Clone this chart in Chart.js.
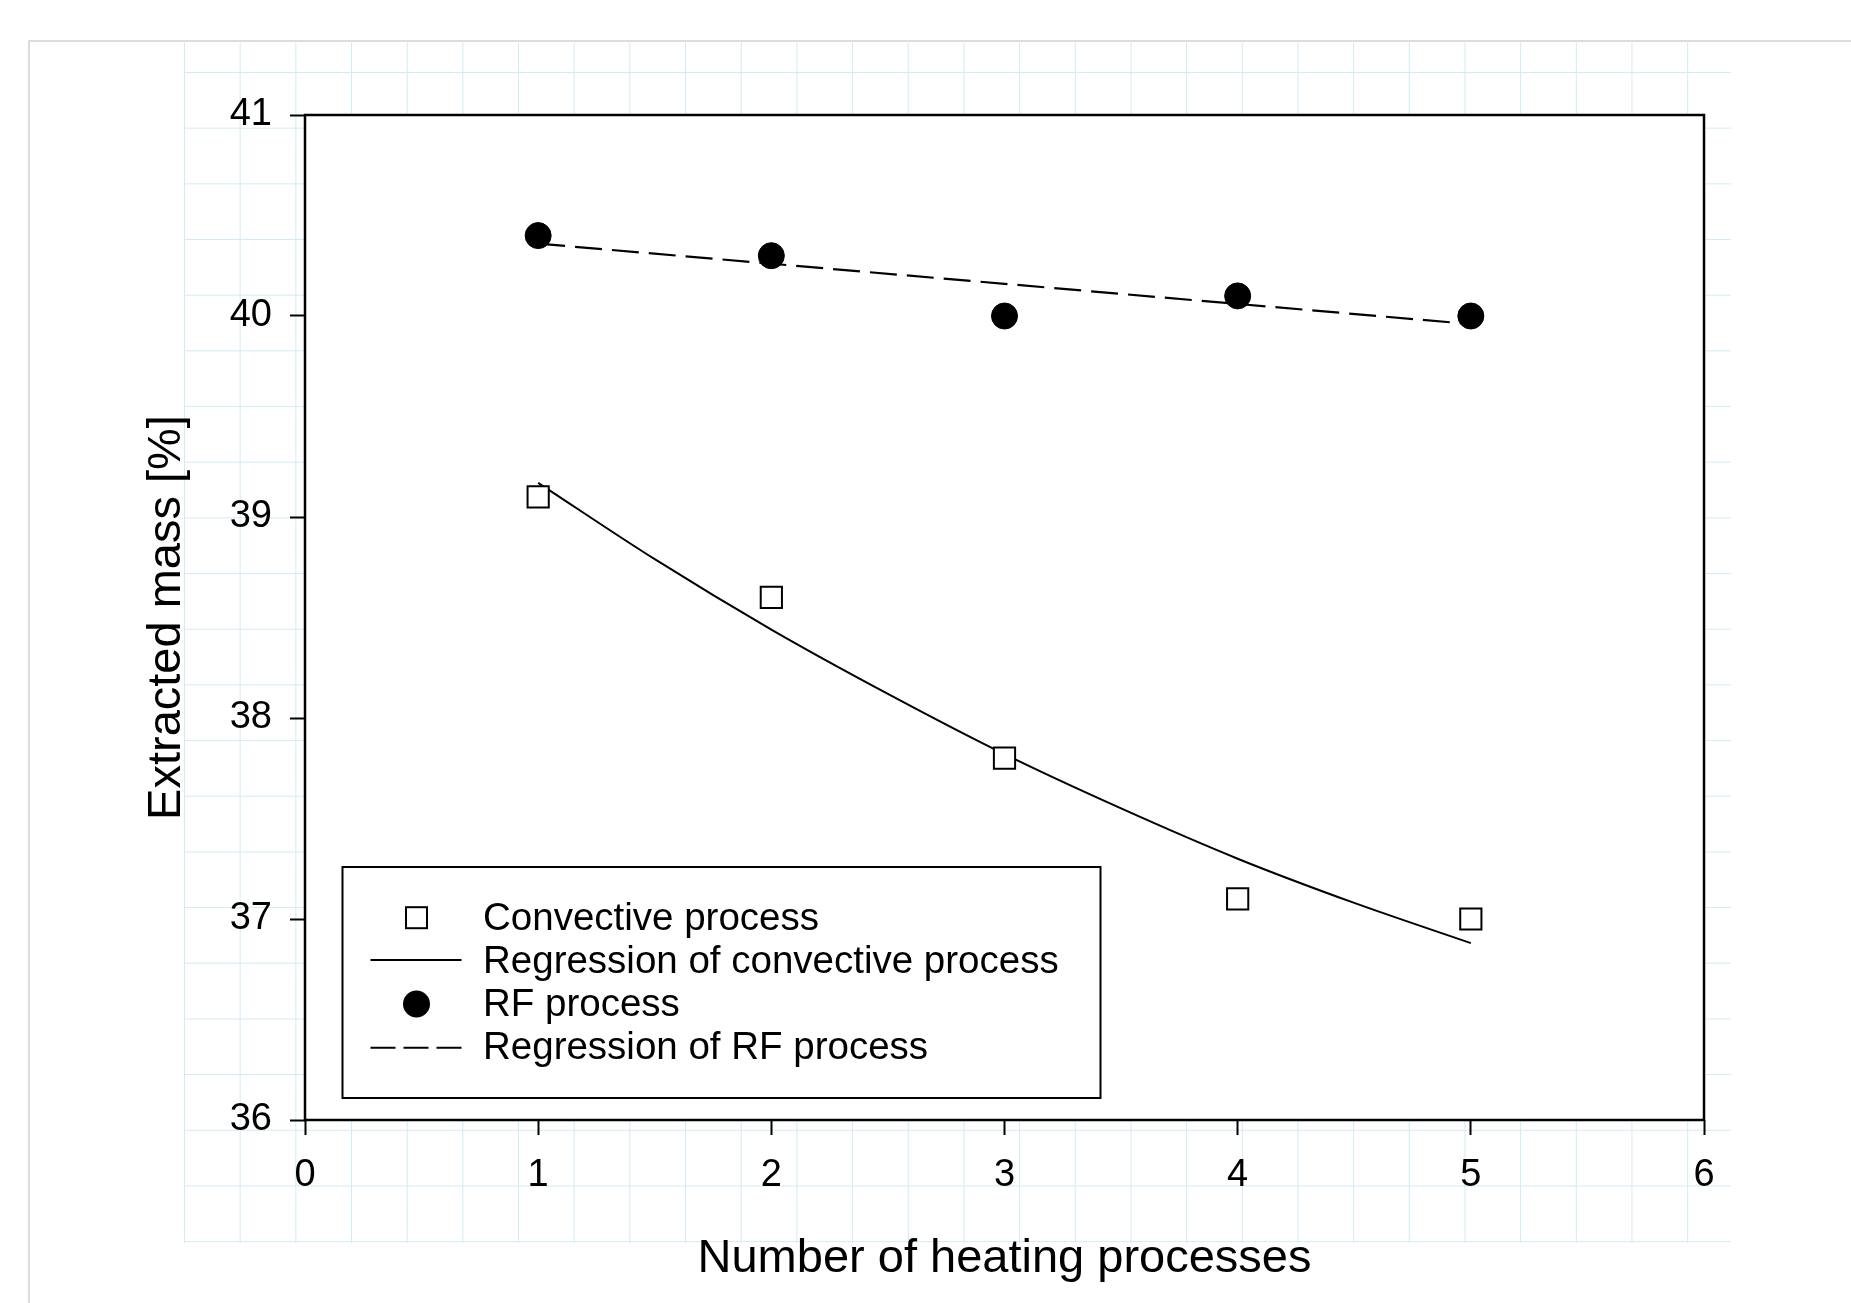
<!DOCTYPE html>
<html>
<head>
<meta charset="utf-8">
<script src="https://cdn.jsdelivr.net/npm/chart.js@4.4.1/dist/chart.umd.min.js"></script>
<style>
  html, body { margin: 0; padding: 0; background: #ffffff; overflow: hidden; }
  #page { position: relative; width: 1851px; height: 1303px; overflow: hidden; background: #ffffff; }
  #frame { position: absolute; left: 28px; top: 40px; width: 2000px; height: 2000px; border: 2px solid #dcdcdc; box-sizing: border-box; }
  #paper {
    position: absolute; left: 184px; top: 41px; width: 1547px; height: 1202px;
    background-image:
      linear-gradient(to right, #d3ebf3 1px, transparent 1px),
      linear-gradient(to bottom, #d3ebf3 1px, transparent 1px);
    background-size: 55.68px 55.68px, 55.68px 55.68px;
    background-position: 0px 0px, 0px 31px;
  }
  #c { position: absolute; left: 0; top: 0; }
</style>
</head>
<body>
<div id="page">
  <div id="frame"></div>
  <div id="paper"></div>
  <canvas id="c" width="1851" height="1303"></canvas>
</div>
<script>
// ---- data ----
const heatingProcesses = [1, 2, 3, 4, 5];
const convectiveValues = [39.1, 38.6, 37.8, 37.1, 37.0];
const rfValues = [40.4, 40.3, 40.0, 40.1, 40.0];
const convRegressionX = [1, 1.5, 2, 2.5, 3, 3.5, 4, 4.5, 5];
const convRegressionY = [39.17, 38.79, 38.44, 38.12, 37.82, 37.55, 37.30, 37.08, 36.88];
const rfRegressionX = [1, 5];
const rfRegressionY = [40.36, 39.96];
const xTickValues = [0, 1, 2, 3, 4, 5, 6];
const yTickValues = [36, 37, 38, 39, 40, 41];
const seriesLabels = ['Convective process', 'Regression of convective process', 'RF process', 'Regression of RF process'];
const xTitle = 'Number of heating processes';
const yTitle = 'Extracted mass [%]';

const toPoints = (xs, ys) => xs.map((x, i) => ({ x: x, y: ys[i] }));
const FONT = "'Liberation Sans', Arial, sans-serif";

const framePlugin = {
  id: 'framePlugin',
  beforeDraw(chart) {
    const { ctx, chartArea: a } = chart;
    ctx.save();
    ctx.fillStyle = '#ffffff';
    ctx.fillRect(a.left, a.top, a.right - a.left, a.bottom - a.top);
    ctx.restore();
  },
  afterDraw(chart) {
    const { ctx, chartArea: a } = chart;
    ctx.save();
    ctx.strokeStyle = '#000';
    ctx.lineWidth = 2.5;
    ctx.strokeRect(a.left, a.top, a.right - a.left, a.bottom - a.top);

    // legend box
    const bx = 342.5, by = 867, bw = 758, bh = 231;
    ctx.fillStyle = '#fff';
    ctx.fillRect(bx, by, bw, bh);
    ctx.lineWidth = 2;
    ctx.strokeRect(bx, by, bw, bh);

    const ds = chart.data.datasets;
    const symX = 416.5, lineX0 = 370.5, lineX1 = 461.5, textX = 483;
    const baselines = [930, 973.2, 1016.3, 1059.4];
    const centers = [917.7, 960, 1004, 1047.7];
    ctx.font = '38.5px ' + FONT;
    ctx.textBaseline = 'alphabetic';
    ctx.textAlign = 'left';
    ds.forEach((d, i) => {
      const cy = centers[i];
      ctx.save();
      if (d.showLine) {
        ctx.strokeStyle = d.borderColor;
        ctx.lineWidth = 2;
        ctx.setLineDash(d.borderDash && d.borderDash.length ? [25, 8] : []);
        ctx.beginPath();
        ctx.moveTo(lineX0, cy);
        ctx.lineTo(lineX1, cy);
        ctx.stroke();
      } else if (d.pointStyle === 'rect') {
        ctx.fillStyle = d.pointBackgroundColor;
        ctx.strokeStyle = d.pointBorderColor;
        ctx.lineWidth = 2;
        ctx.fillRect(symX - 10.5, cy - 10.5, 21, 21);
        ctx.strokeRect(symX - 10.5, cy - 10.5, 21, 21);
      } else {
        ctx.fillStyle = d.pointBackgroundColor;
        ctx.beginPath();
        ctx.arc(symX, cy, 13.5, 0, Math.PI * 2);
        ctx.fill();
      }
      ctx.restore();
      ctx.fillStyle = '#000';
      ctx.fillText(d.label, textX, baselines[i]);
    });
    ctx.restore();
  }
};

const axisCommon = {
  type: 'linear',
  grid: { drawOnChartArea: false, drawTicks: true, tickLength: 15, tickColor: '#000', tickWidth: 2 },
  border: { display: false },
};

new Chart(document.getElementById('c'), {
  type: 'scatter',
  data: {
    datasets: [
      {
        label: seriesLabels[0],
        data: toPoints(heatingProcesses, convectiveValues),
        pointStyle: 'rect', pointRadius: 15, pointHoverRadius: 15,
        pointBackgroundColor: '#ffffff', pointBorderColor: '#000000', pointBorderWidth: 2,
        showLine: false, order: 0
      },
      {
        label: seriesLabels[1],
        data: toPoints(convRegressionX, convRegressionY),
        showLine: true, borderColor: '#000000', borderWidth: 2,
        pointRadius: 0, pointHoverRadius: 0, cubicInterpolationMode: 'monotone', order: 2
      },
      {
        label: seriesLabels[2],
        data: toPoints(heatingProcesses, rfValues),
        pointStyle: 'circle', pointRadius: 13, pointHoverRadius: 13,
        pointBackgroundColor: '#000000', pointBorderColor: '#000000', pointBorderWidth: 1,
        showLine: false, order: 1
      },
      {
        label: seriesLabels[3],
        data: toPoints(rfRegressionX, rfRegressionY),
        showLine: true, borderColor: '#000000', borderWidth: 2.2, borderDash: [27, 10],
        pointRadius: 0, pointHoverRadius: 0, order: 3
      }
    ]
  },
  options: {
    responsive: false,
    animation: false,
    devicePixelRatio: 1,
    layout: { padding: { left: 0, top: 115, right: 147, bottom: 0 } },
    plugins: { legend: { display: false }, tooltip: { enabled: false } },
    scales: {
      x: Object.assign({}, axisCommon, {
        min: xTickValues[0], max: xTickValues[xTickValues.length - 1],
        afterBuildTicks: (s) => { s.ticks = xTickValues.map(v => ({ value: v })); },
        ticks: { color: '#000', padding: 18, font: { family: FONT, size: 38 }, maxRotation: 0, autoSkip: false },
        title: { display: true, text: xTitle, color: '#000', font: { family: FONT, size: 47 }, padding: { top: 0, bottom: 16 } },
        afterFit: (s) => { s.height = 183; }
      }),
      y: Object.assign({}, axisCommon, {
        min: yTickValues[0], max: yTickValues[yTickValues.length - 1],
        afterBuildTicks: (s) => { s.ticks = yTickValues.map(v => ({ value: v })); },
        ticks: { color: '#000', padding: 18, font: { family: FONT, size: 38 }, autoSkip: false },
        title: { display: true, text: yTitle, color: '#000', font: { family: FONT, size: 47 }, padding: { top: 139, bottom: 0 } },
        afterFit: (s) => { s.width = 305; }
      })
    }
  },
  plugins: [framePlugin]
});
</script>
</body>
</html>
